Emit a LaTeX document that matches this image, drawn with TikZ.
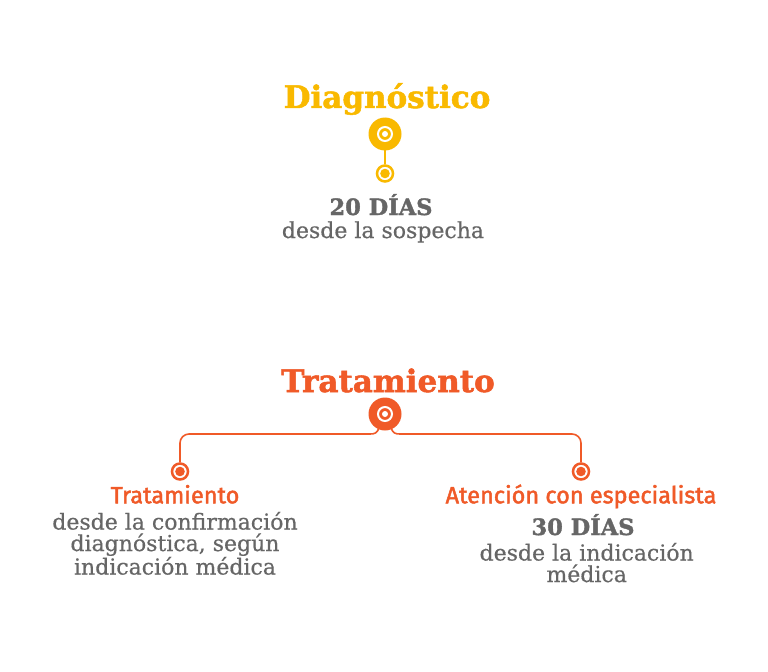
\documentclass[tikz,border=0pt]{standalone}
\usepackage{fontspec}
\setmainfont{DejaVu Serif}[BoldFeatures={FakeBold=1.6}]
\newfontfamily\bodyf[FakeBold=0.5]{DejaVu Serif}
\newfontfamily\subf[FakeBold=1.8]{Fira Sans}
\definecolor{ylw}{RGB}{249,185,0}
\definecolor{org}{RGB}{240,90,40}
\definecolor{gry}{RGB}{102,102,102}
\tikzset{
  bigtitle/.style={anchor=base, inner sep=0pt, font=\fontsize{31bp}{36bp}\selectfont\bfseries},
  subtitle/.style={anchor=base, inner sep=0pt, text=org, font=\subf\fontsize{23.5bp}{26bp}\selectfont},
  days/.style={anchor=base, inner sep=0pt, text=gry, font=\fontsize{22.5bp}{25bp}\selectfont\bfseries},
  body/.style={anchor=base, inner sep=0pt, text=gry, align=center, font=\bodyf\fontsize{22bp}{21.5bp}\selectfont},
  bigdot/.style={circle, minimum size=32bp, inner sep=0pt},
  smalldot/.style={circle, minimum size=18bp, inner sep=0pt},
  conn/.style={line width=1.6bp},
}
\begin{document}
\begin{tikzpicture}[x=1bp,y=-1bp]
\useasboundingbox[fill=white] (0,0) rectangle (768,672);
% ---- Diagnostico
\node[bigtitle, text=ylw] (dt) at (387,108) {Diagnóstico};
\node[bigdot] (db) at (385,134) {};
\node[smalldot] (ds) at (385,173.5) {};
\draw[conn, draw=ylw] (db.center) -- (ds.center);
\fill[ylw] (db.center) circle (16.5bp);
\draw[white, line width=2bp] (db.center) circle (7bp);
\fill[white] (db.center) circle (3bp);
\fill[white] (ds.center) circle (9.3bp);
\draw[ylw, line width=2.5bp] (ds.center) circle (8bp);
\fill[ylw] (ds.center) circle (4.8bp);
\node[days] (d20) at (381,215) {20 DÍAS};
\node[body] (dd) at (383,238) {desde la sospecha};
% ---- Tratamiento
\node[bigtitle, text=org] (tt) at (388,392) {Tratamiento};
\node[bigdot] (tc) at (385,414) {};
\node[smalldot] (tl) at (180,471.5) {};
\node[smalldot] (tr) at (581,471.5) {};
\draw[conn, draw=org, rounded corners=9bp] (tl.center) -- (180,434) -- (370,434);
\draw[conn, draw=org] (370,434) .. controls (375,434) and (377,433) .. (379,428);
\draw[conn, draw=org, rounded corners=9bp] (tr.center) -- (581,434) -- (400,434);
\draw[conn, draw=org] (400,434) .. controls (395,434) and (393,433) .. (391,428);
\fill[org] (tc.center) circle (16.5bp);
\draw[white, line width=2bp] (tc.center) circle (7bp);
\fill[white] (tc.center) circle (3bp);
\foreach \n in {tl,tr}{
  \fill[white] (\n.center) circle (9.3bp);
  \draw[org, line width=2.5bp] (\n.center) circle (8bp);
  \fill[org] (\n.center) circle (4.8bp);
}
\node[subtitle] (st1) at (175,503.3) {Tratamiento};
\node[body] (b1) at (175,574.5) {desde la confirmación\\diagnóstica, según\\indicación médica};
\node[subtitle] (st2) at (581,503.3) {Atención con especialista};
\node[days] (d30) at (583,535) {30 DÍAS};
\node[body] (b2) at (586.7,582) {desde la indicación\\médica};
\end{tikzpicture}
\end{document}
